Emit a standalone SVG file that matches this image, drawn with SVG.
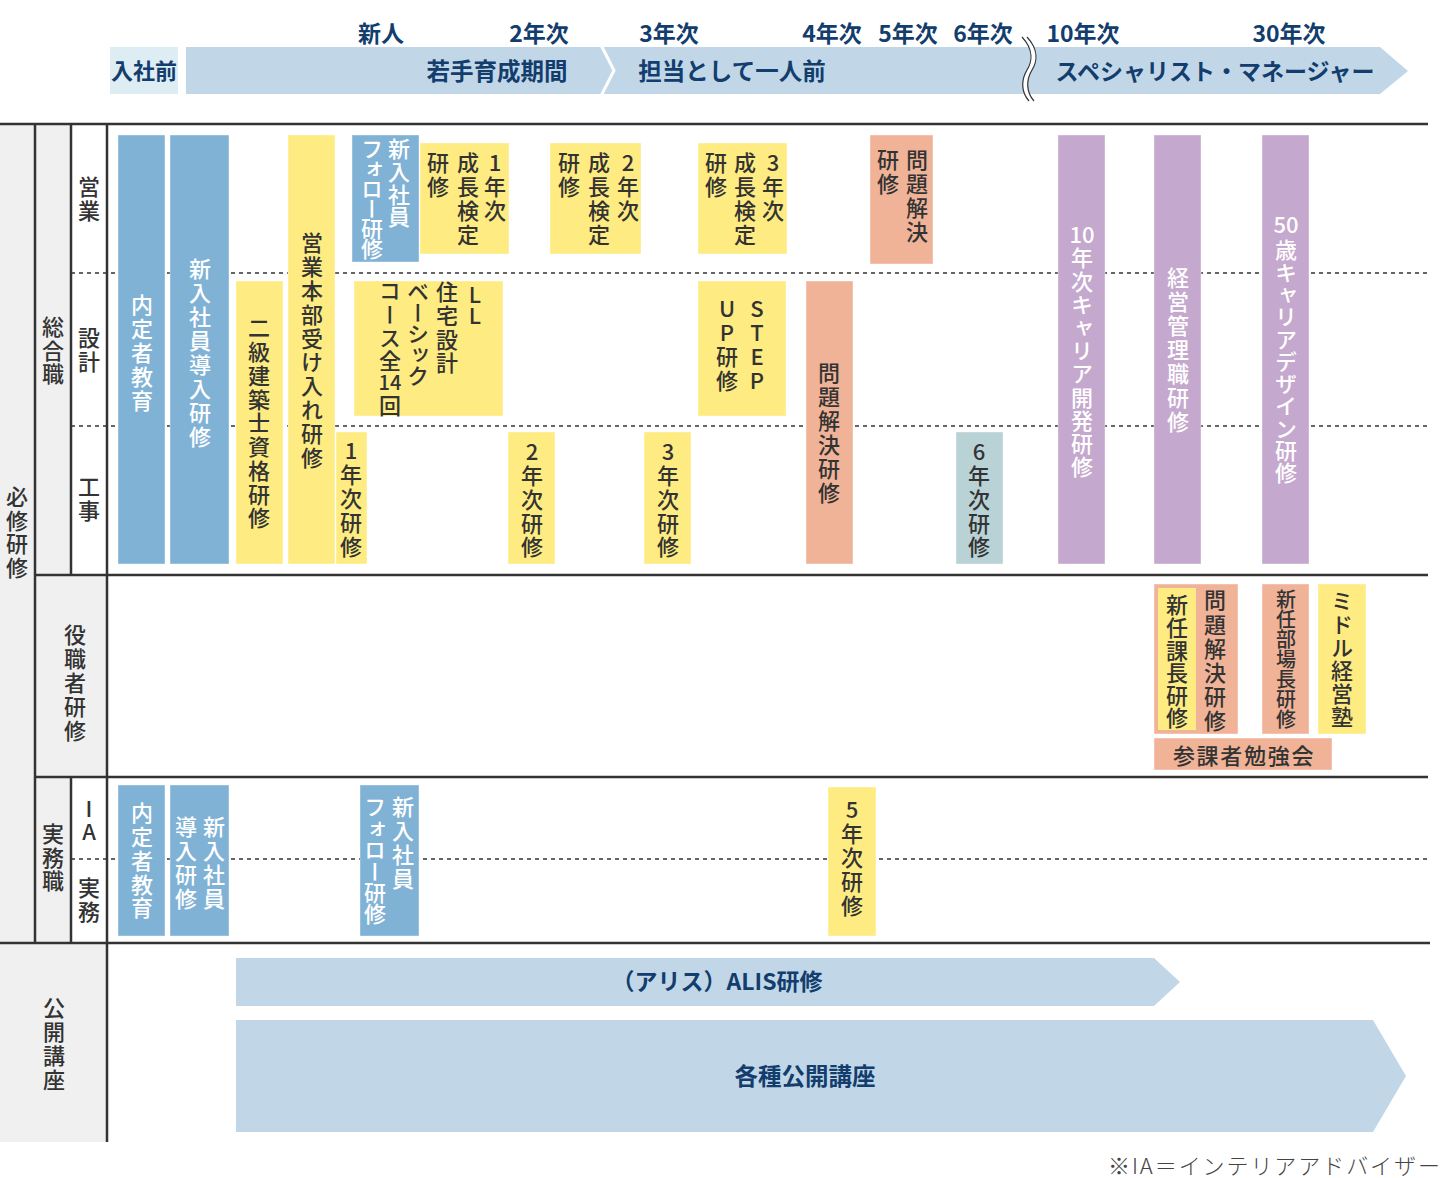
<svg xmlns="http://www.w3.org/2000/svg" width="1444" height="1178" viewBox="0 0 1444 1178">
<style>
text { font-family: "Noto Sans CJK JP", "Noto Sans", sans-serif; }
.v { writing-mode: vertical-rl; text-orientation: upright; font-size: 22px; font-weight: 500; letter-spacing: 2px; }
.h { font-size: 22px; font-weight: 500; text-anchor: middle; }
.lab { fill: #333; }
.dk { fill: #333; }
.wt { fill: #fff; }
.nv { fill: #123d6d; font-weight: 700; }
.yr { font-size: 23px; text-anchor: middle; }
.bd { font-size: 23.5px; text-anchor: middle; }
.blue { fill: #80b2d6; }
.yel { fill: #feec82; }
.sal { fill: #f0b398; }
.pur { fill: #c5a8cd; }
.teal { fill: #b9d2d6; }
.box { stroke: #ffffff; stroke-opacity: 0.4; stroke-width: 1; }
.band { fill: #c1d7e8; }
.rule { stroke: #333; stroke-width: 2.5; fill: none; }
.dash { stroke: #333; stroke-width: 1.6; stroke-dasharray: 4 4; fill: none; }
.gray { fill: #f0f0f0; }
</style>

<g id="header">
  <rect x="110" y="47" width="68" height="47" fill="#deedf4"/>
  <text x="144" y="79" class="nv" style="font-size:22px;text-anchor:middle">入社前</text>
  <path class="band" d="M186,47 H1380 L1408,71 L1380,94 H186 Z"/>
  <polyline points="601,45 614,70.5 601,96" fill="none" stroke="#fff" stroke-width="3"/>
  <path d="M1022,37 C1034,50 1032,62 1027,70 C1021,80 1021,92 1029,101 L1034,101 C1026,92 1026,80 1032,70 C1037,62 1039,50 1027,37 Z" fill="#fff"/>
  <path d="M1022,37 C1034,50 1032,62 1027,70 C1021,80 1021,92 1029,101" fill="none" stroke="#333" stroke-width="1.2"/>
  <path d="M1027,37 C1039,50 1037,62 1032,70 C1026,80 1026,92 1034,101" fill="none" stroke="#333" stroke-width="1.2"/>
  <text x="497" y="80" class="nv bd">若手育成期間</text>
  <text x="732" y="80" class="nv bd">担当として一人前</text>
  <text x="1215" y="80" class="nv" style="font-size:23px;text-anchor:middle">スペシャリスト・マネージャー</text>
  <text x="381" y="42" class="nv yr">新人</text>
  <text x="539" y="42" class="nv yr">2年次</text>
  <text x="669" y="42" class="nv yr">3年次</text>
  <text x="832" y="42" class="nv yr">4年次</text>
  <text x="908" y="42" class="nv yr">5年次</text>
  <text x="983" y="42" class="nv yr">6年次</text>
  <text x="1083" y="42" class="nv yr">10年次</text>
  <text x="1289" y="42" class="nv yr">30年次</text>
</g>

<g id="grid">
  <rect class="gray" x="0" y="124" width="35" height="819"/>
  <rect class="gray" x="35" y="124" width="36" height="451"/>
  <rect class="gray" x="35" y="575" width="72" height="202"/>
  <rect class="gray" x="35" y="777" width="36" height="166"/>
  <rect class="gray" x="0" y="943" width="107" height="199"/>
  <line class="dash" x1="71" y1="273" x2="1428" y2="273"/>
  <line class="dash" x1="71" y1="426" x2="1428" y2="426"/>
  <line class="dash" x1="71" y1="859" x2="1428" y2="859"/>
  <line class="rule" x1="0" y1="124" x2="1428" y2="124"/>
  <line class="rule" x1="35" y1="575" x2="1428" y2="575"/>
  <line class="rule" x1="35" y1="777" x2="1428" y2="777"/>
  <line class="rule" x1="0" y1="943" x2="1430" y2="943"/>
  <line class="rule" x1="35" y1="124" x2="35" y2="943"/>
  <line class="rule" x1="71" y1="124" x2="71" y2="575"/>
  <line class="rule" x1="71" y1="777" x2="71" y2="943"/>
  <line class="rule" x1="107" y1="124" x2="107" y2="1142"/>
</g>

<g id="row-labels">
  <text class="v lab" x="17" y="486" style="letter-spacing:1.5px">必修研修</text>
  <text class="v lab" x="53" y="316" style="letter-spacing:1.5px">総合職</text>
  <text class="v lab" x="89" y="176">営業</text>
  <text class="v lab" x="89" y="327">設計</text>
  <text class="v lab" x="89" y="476">工事</text>
  <text class="v lab" x="75" y="624">役職者研修</text>
  <text class="v lab" x="53" y="823" style="letter-spacing:1.5px">実務職</text>
  <text class="v lab" x="89" y="798" style="letter-spacing:1px">IA</text>
  <text class="v lab" x="89" y="877">実務</text>
  <text class="v lab" x="54" y="997">公開講座</text>
</g>

<g id="connectors"></g>

<g id="n-naitei1">
  <rect class="blue box" x="118" y="135" width="47" height="429"/>
  <text class="v wt" x="142" y="294">内定者教育</text>
</g>
<g id="n-dounyu1">
  <rect class="blue box" x="170" y="135" width="59" height="429"/>
  <text class="v wt" x="200" y="258">新入社員導入研修</text>
</g>
<g id="n-nikyu">
  <rect class="yel box" x="236" y="281" width="47" height="283"/>
  <text class="v dk" x="259" y="317" style="letter-spacing:1.75px">二級建築士資格研修</text>
</g>
<g id="n-eigyohonbu">
  <rect class="yel box" x="288" y="135" width="47" height="429"/>
  <text class="v dk" x="312" y="232" style="letter-spacing:1.8px">営業本部受け入れ研修</text>
</g>
<g id="n-koji1">
  <rect class="yel box" x="336" y="432" width="31" height="132"/>
  <text class="v dk" x="351" y="440">1年次研修</text>
</g>
<g id="n-follow1">
  <rect class="blue box" x="352" y="135" width="67" height="127"/>
  <text class="v wt" x="399" y="138" style="letter-spacing:0.7px">新入社員</text>
  <text class="v wt" x="372" y="138" style="letter-spacing:-2px">フォロー研修</text>
</g>
<g id="n-seicho1">
  <rect class="yel box" x="420" y="143" width="89" height="111"/>
  <text class="v dk" x="495" y="152">1年次</text>
  <text class="v dk" x="468" y="152">成長検定</text>
  <text class="v dk" x="438" y="152">研修</text>
</g>
<g id="n-seicho2">
  <rect class="yel box" x="550" y="143" width="91" height="111"/>
  <text class="v dk" x="628" y="152">2年次</text>
  <text class="v dk" x="599" y="152">成長検定</text>
  <text class="v dk" x="569" y="152">研修</text>
</g>
<g id="n-seicho3">
  <rect class="yel box" x="698" y="143" width="89" height="111"/>
  <text class="v dk" x="773" y="152">3年次</text>
  <text class="v dk" x="745" y="152">成長検定</text>
  <text class="v dk" x="716" y="152">研修</text>
</g>
<g id="n-mondai-eigyo">
  <rect class="sal box" x="870" y="135" width="63" height="129"/>
  <text class="v dk" x="917" y="149">問題解決</text>
  <text class="v dk" x="888" y="149">研修</text>
</g>
<g id="n-ll">
  <rect class="yel box" x="354" y="281" width="149" height="135"/>
  <text class="v dk" x="475" y="284" style="letter-spacing:-1px">LL</text>
  <text class="v dk" x="447" y="281" style="letter-spacing:1.7px">住宅設計</text>
  <text class="v dk" x="418" y="281" style="letter-spacing:-1px">ベーシック</text>
  <text class="v dk" x="390" y="280" style="letter-spacing:1.2px">コース全</text>
  <text class="h dk" x="390" y="390"><tspan style="font-size:20px">14</tspan><tspan x="390" y="414">回</tspan></text>
</g>
<g id="n-stepup">
  <rect class="yel box" x="698" y="281" width="88" height="135"/>
  <text class="v dk" x="757" y="298">STEP</text>
  <text class="v dk" x="727" y="298">UP研修</text>
</g>
<g id="n-mondai">
  <rect class="sal box" x="806" y="281" width="47" height="283"/>
  <text class="v dk" x="829" y="362">問題解決研修</text>
</g>
<g id="n-koji2">
  <rect class="yel box" x="508" y="432" width="47" height="132"/>
  <text class="v dk" x="532" y="441" style="letter-spacing:1.75px">2年次研修</text>
</g>
<g id="n-koji3">
  <rect class="yel box" x="644" y="432" width="47" height="132"/>
  <text class="v dk" x="668" y="441" style="letter-spacing:1.75px">3年次研修</text>
</g>
<g id="n-koji6">
  <rect class="teal box" x="956" y="432" width="47" height="132"/>
  <text class="v dk" x="979" y="441" style="letter-spacing:1.75px">6年次研修</text>
</g>
<g id="n-career10">
  <rect class="pur box" x="1058" y="135" width="47" height="429"/>
  <text class="h wt" x="1082" y="243">10</text>
  <text class="v wt" x="1082" y="247" style="letter-spacing:1.2px">年次キャリア開発研修</text>
</g>
<g id="n-keiei">
  <rect class="pur box" x="1154" y="135" width="47" height="429"/>
  <text class="v wt" x="1178" y="267">経営管理職研修</text>
</g>
<g id="n-career50">
  <rect class="pur box" x="1262" y="135" width="47" height="429"/>
  <text class="h wt" x="1286" y="233">50</text>
  <text class="v wt" x="1286" y="239" style="letter-spacing:0.3px">歳キャリアデザイン研修</text>
</g>
<g id="n-kacho">
  <rect class="sal box" x="1154" y="584" width="84" height="150"/>
  <rect class="yel" x="1158" y="588" width="38" height="142"/>
  <text class="v dk" x="1177" y="594" style="letter-spacing:0.6px">新任課長研修</text>
  <text class="v dk" x="1215" y="589" style="letter-spacing:2.2px">問題解決研修</text>
</g>
<g id="n-bucho">
  <rect class="sal box" x="1262" y="584" width="47" height="150"/>
  <text class="v dk" x="1286" y="589" style="font-size:20px;letter-spacing:0px">新任部場長研修</text>
</g>
<g id="n-middle">
  <rect class="yel box" x="1318" y="584" width="48" height="150"/>
  <text class="v dk" x="1342" y="590" style="letter-spacing:1.2px">ミドル経営塾</text>
</g>
<g id="n-sankasha">
  <rect class="sal box" x="1154" y="738" width="178" height="32"/>
  <text class="h dk" x="1244" y="764" style="font-size:22px;letter-spacing:1.7px">参課者勉強会</text>
</g>
<g id="n-naitei2">
  <rect class="blue box" x="118" y="785" width="47" height="151"/>
  <text class="v wt" x="142" y="802" style="letter-spacing:1.75px">内定者教育</text>
</g>
<g id="n-dounyu2">
  <rect class="blue box" x="170" y="785" width="59" height="151"/>
  <text class="v wt" x="214" y="816">新入社員</text>
  <text class="v wt" x="186" y="816">導入研修</text>
</g>
<g id="n-follow2">
  <rect class="blue box" x="360" y="785" width="59" height="151"/>
  <text class="v wt" x="403" y="796">新入社員</text>
  <text class="v wt" x="375" y="796" style="letter-spacing:-0.6px">フォロー研修</text>
</g>
<g id="n-jimu5">
  <rect class="yel box" x="828" y="787" width="48" height="149"/>
  <text class="v dk" x="852" y="799">5年次研修</text>
</g>
<g id="n-alis">
  <path class="band" d="M236,958 H1154 L1180,982 L1154,1006 H236 Z"/>
  <text x="717" y="990" class="nv" style="font-size:23px;text-anchor:middle">（アリス）ALIS研修</text>
</g>
<g id="n-koukai">
  <path class="band" d="M236,1020 H1373 L1406,1076 L1373,1132 H236 Z"/>
  <text x="805" y="1085" class="nv bd">各種公開講座</text>
</g>
<text x="1108" y="1174" textLength="332" lengthAdjust="spacing" style="font-size:22px;font-weight:300;fill:#444">※IA＝インテリアアドバイザー</text>
</svg>
